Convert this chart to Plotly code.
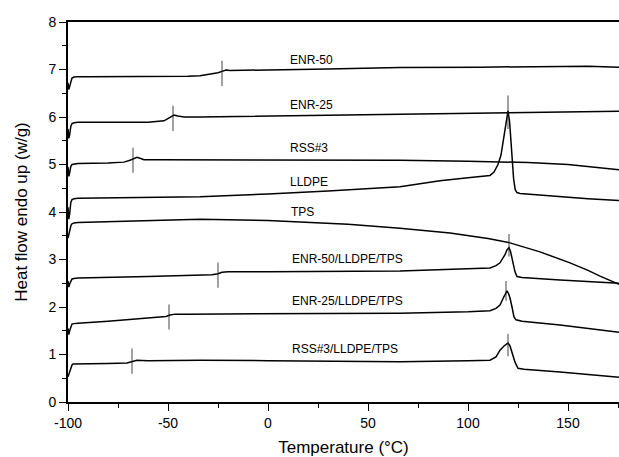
import plotly.graph_objects as go

# ---------------- data ----------------
enr50_x = [-100, -99.6, -99.2, -98.6, -98, -97, -95, -90, -70, -50, -40, -34, -30, -27, -25, -23, -21, -19, -15, 0, 30, 66, 106, 140, 160, 175.5]
enr50_y = [6.72, 6.58, 6.64, 6.76, 6.82, 6.84, 6.85, 6.85, 6.85, 6.86, 6.86, 6.87, 6.89, 6.91, 6.93, 6.96, 6.99, 6.98, 6.98, 6.99, 7.01, 7.04, 7.05, 7.07, 7.07, 7.05]

enr25_x = [-100, -99.6, -99.2, -98.6, -98, -97, -95, -90, -70, -60, -52, -49, -47, -45, -42, -34, 0, 66, 106, 150, 175.5]
enr25_y = [5.75, 5.55, 5.62, 5.80, 5.86, 5.88, 5.89, 5.89, 5.89, 5.89, 5.92, 5.99, 6.04, 6.02, 6.00, 6.00, 6.02, 6.06, 6.08, 6.10, 6.12]

rss_x = [-100, -99.6, -99.2, -98.6, -98, -97, -95, -80, -72, -69, -67, -65.5, -64, -62, -55, -34, 0, 66, 100, 130, 150, 175.5]
rss_y = [4.95, 4.75, 4.82, 4.96, 5.00, 5.01, 5.02, 5.03, 5.05, 5.09, 5.13, 5.15, 5.13, 5.10, 5.10, 5.10, 5.10, 5.09, 5.07, 5.04, 5.00, 4.89]

lldpe_x = [-100, -99.6, -99.2, -98.6, -98, -97, -95, -80, -50, -34, 0, 30, 66, 86, 100, 108, 111, 113, 115, 116.5, 118, 119, 120, 120.8, 121.8, 122.8, 123.6, 124.5, 126, 135, 146, 160, 175.5]
lldpe_y = [4.10, 3.85, 3.95, 4.20, 4.26, 4.28, 4.29, 4.30, 4.31, 4.32, 4.38, 4.44, 4.53, 4.66, 4.72, 4.75, 4.77, 4.84, 5.00, 5.20, 5.60, 5.90, 6.13, 5.90, 5.20, 4.70, 4.47, 4.41, 4.39, 4.36, 4.32, 4.28, 4.24]

tps_x = [-100, -99.5, -99, -98.5, -98, -97, -95, -80, -60, -34, 0, 16, 40, 66, 91, 110, 121, 136, 151, 160, 166, 175.5]
tps_y = [3.45, 3.55, 3.65, 3.72, 3.75, 3.77, 3.78, 3.80, 3.83, 3.85, 3.82, 3.79, 3.74, 3.66, 3.56, 3.44, 3.35, 3.16, 2.93, 2.77, 2.65, 2.48]

b50_x = [-100, -99.6, -99.2, -98.6, -98, -97, -95, -60, -34, -28, -25, -23, -20, 0, 66, 100, 108, 111, 114, 116, 118.5, 119.5, 120.5, 121.2, 122, 122.8, 123.5, 124.5, 127, 146, 175.5]
b50_y = [2.55, 2.42, 2.48, 2.56, 2.59, 2.60, 2.61, 2.64, 2.67, 2.68, 2.70, 2.73, 2.74, 2.74, 2.76, 2.80, 2.81, 2.82, 2.87, 2.93, 3.10, 3.20, 3.25, 3.18, 3.03, 2.86, 2.74, 2.64, 2.62, 2.57, 2.50]

b25_x = [-100, -99.6, -99.2, -98.6, -98, -97, -95, -80, -60, -54, -51, -49, -46.5, -40, 0, 66, 100, 108, 111, 114, 116, 118, 119.5, 120.3, 121, 122, 123, 124, 127, 146, 175.5]
b25_y = [1.55, 1.42, 1.50, 1.60, 1.64, 1.65, 1.66, 1.70, 1.76, 1.79, 1.80, 1.83, 1.85, 1.85, 1.86, 1.87, 1.90, 1.91, 1.92, 1.97, 2.04, 2.22, 2.34, 2.28, 2.19, 2.00, 1.79, 1.73, 1.70, 1.62, 1.47]

b3_x = [-100, -99.5, -99, -98.5, -98, -97.5, -95, -80, -70.5, -69, -67, -65.5, -60, -34, 0, 66, 100, 108, 111, 114, 116, 118, 120, 121, 122, 123, 123.5, 125, 128, 146, 175.5]
b3_y = [0.53, 0.60, 0.68, 0.75, 0.78, 0.80, 0.80, 0.81, 0.82, 0.84, 0.87, 0.88, 0.87, 0.88, 0.87, 0.85, 0.87, 0.88, 0.88, 0.95, 1.09, 1.18, 1.24, 1.18, 1.05, 0.92, 0.84, 0.71, 0.69, 0.63, 0.52]

series_x = [enr50_x, enr25_x, rss_x, lldpe_x, tps_x, b50_x, b25_x, b3_x]
series_y = [enr50_y, enr25_y, rss_y, lldpe_y, tps_y, b50_y, b25_y, b3_y]

labels = ["ENR-50", "ENR-25", "RSS#3", "LLDPE", "TPS",
          "ENR-50/LLDPE/TPS", "ENR-25/LLDPE/TPS", "RSS#3/LLDPE/TPS"]
label_x = [10.0, 10.0, 10.0, 10.0, 10.5, 11.0, 11.0, 11.0]
label_y = [7.21, 6.25, 5.34, 4.64, 4.0, 3.01, 2.13, 1.12]

# Tg / peak markers
mark_x = [-23, -47.5, -67.5, 120, 120.5, -25, -49.5, 119, -68, 120]
mark_y = [6.92, 5.97, 5.09, 6.10, 3.30, 2.67, 1.79, 2.34, 0.86, 1.20]

x_ticks = [-100, -50, 0, 50, 100, 150]
y_ticks = [0, 1, 2, 3, 4, 5, 6, 7, 8]

FONT = "Arial, Liberation Sans, sans-serif"

fig = go.Figure()
for xs, ys, name in zip(series_x, series_y, labels):
    fig.add_trace(go.Scatter(x=xs, y=ys, mode="lines", name=name,
                             line=dict(color="black", width=1.5),
                             showlegend=False, hoverinfo="skip"))

fig.add_trace(go.Scatter(x=mark_x, y=mark_y, mode="markers", showlegend=False,
                         marker=dict(symbol="line-ns", size=[18, 18, 18, 24, 16, 18, 18, 14, 18, 16],
                                     color="#222222",
                                     line=dict(color="#222222", width=1.2)),
                         hoverinfo="skip"))

for t, xx, yy in zip(labels, label_x, label_y):
    fig.add_annotation(x=xx, y=yy, text=t, showarrow=False, xanchor="left",
                       yanchor="middle", font=dict(family=FONT, size=12, color="black"))

fig.update_layout(
    width=619, height=457,
    margin=dict(l=68, r=0, t=22, b=55),
    paper_bgcolor="white", plot_bgcolor="white",
    font=dict(family=FONT, color="black"),
)
fig.update_xaxes(
    range=[-100, 175.5], tickvals=x_ticks, ticktext=[str(v) for v in x_ticks],
    ticks="outside", ticklen=7, tickwidth=1.3, tickcolor="black",
    minor=dict(ticks="outside", dtick=25, tick0=-100, ticklen=4, tickwidth=1.2, tickcolor="black"),
    showline=True, linecolor="black", linewidth=1.6, mirror=True,
    showgrid=False, zeroline=False,
    tickfont=dict(family=FONT, size=14, color="black"),
    title=dict(text="Temperature (°C)", font=dict(family=FONT, size=17, color="black"), standoff=15),
)
fig.update_yaxes(
    range=[0, 8], tickvals=y_ticks, ticktext=[str(v) for v in y_ticks],
    ticks="outside", ticklen=7, tickwidth=1.3, tickcolor="black",
    minor=dict(ticks="outside", dtick=0.5, tick0=0, ticklen=4, tickwidth=1.2, tickcolor="black"),
    showline=True, linecolor="black", linewidth=1.6, mirror=False,
    showgrid=False, zeroline=False,
    tickfont=dict(family=FONT, size=14, color="black"),
    title=dict(text="Heat flow endo up (w/g)", font=dict(family=FONT, size=17, color="black"), standoff=17),
)

fig.write_html("out.html")
